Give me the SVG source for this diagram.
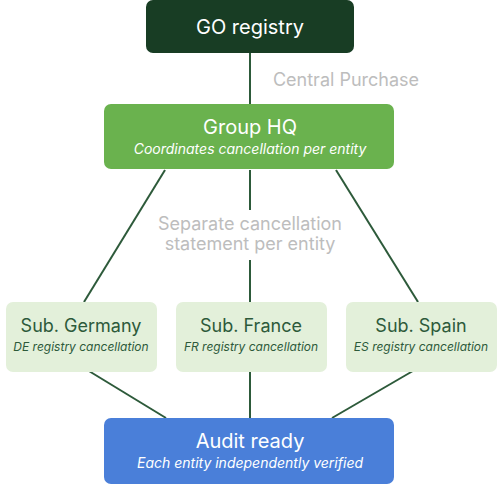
<svg xmlns="http://www.w3.org/2000/svg" width="502" height="484" viewBox="0 0 502 484">
<style>
text{font-family:Inter,"Noto Sans",sans-serif;text-anchor:middle}
.t{font-size:20px}
.s{font-size:14px;font-style:italic}
.t2{font-size:18px}
.s2{font-size:12px;font-style:italic}
.lbl{font-size:18px;fill:#bdbdbd}
.c{stroke:#2d5a3a;stroke-width:2;fill:none}
</style>
<rect width="502" height="484" fill="#ffffff"/>
<g id="connectors">
<line class="c" x1="250" y1="53" x2="250" y2="104"/>
<line class="c" x1="165" y1="170" x2="84" y2="302"/>
<line class="c" x1="250" y1="170" x2="250" y2="210"/>
<line class="c" x1="250" y1="260" x2="250" y2="302"/>
<line class="c" x1="336" y1="170" x2="418" y2="302"/>
<line class="c" x1="84" y1="368" x2="166" y2="418"/>
<line class="c" x1="250" y1="368" x2="250" y2="418"/>
<line class="c" x1="418" y1="368" x2="332" y2="418"/>
<text class="lbl" x="346" y="86">Central Purchase</text>
<text class="lbl" x="250" y="230">Separate cancellation</text>
<text class="lbl" x="250" y="250">statement per entity</text>
</g>
<g id="go">
<rect x="146" y="0" width="208" height="53" rx="7" fill="#183d24"/>
<text class="t" x="250" y="34" fill="#ffffff">GO registry</text>
</g>
<g id="hq">
<rect x="104" y="104" width="290" height="65" rx="7" fill="#6ab24e"/>
<text class="t" x="250" y="134" fill="#ffffff">Group HQ</text>
<text class="s" x="250" y="154" fill="#ffffff">Coordinates cancellation per entity</text>
</g>
<g id="germany">
<rect x="6" y="302" width="151" height="70" rx="7" fill="#e3f0da"/>
<text class="t2" x="81" y="332" fill="#2d5a3a">Sub. Germany</text>
<text class="s2" x="81" y="351" fill="#2d5a3a">DE registry cancellation</text>
</g>
<g id="france">
<rect x="176" y="302" width="151" height="70" rx="7" fill="#e3f0da"/>
<text class="t2" x="251" y="332" fill="#2d5a3a">Sub. France</text>
<text class="s2" x="251" y="351" fill="#2d5a3a">FR registry cancellation</text>
</g>
<g id="spain">
<rect x="346" y="302" width="151" height="70" rx="7" fill="#e3f0da"/>
<text class="t2" x="421" y="332" fill="#2d5a3a">Sub. Spain</text>
<text class="s2" x="421" y="351" fill="#2d5a3a">ES registry cancellation</text>
</g>
<g id="audit">
<rect x="104" y="418" width="290" height="66" rx="7" fill="#4a7fd9"/>
<text class="t" x="250" y="448" fill="#ffffff">Audit ready</text>
<text class="s" x="250" y="468" fill="#ffffff">Each entity independently verified</text>
</g>
</svg>
